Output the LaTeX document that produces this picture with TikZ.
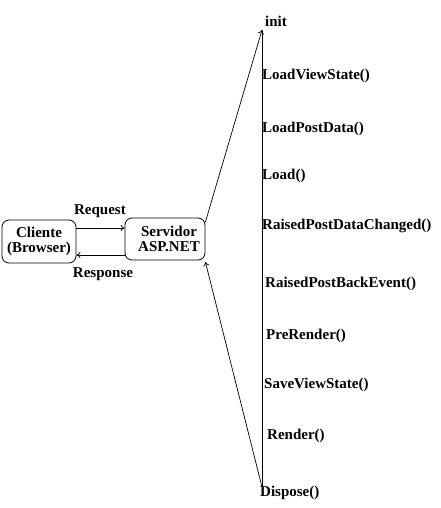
\documentclass[tikz,border=0pt]{standalone}
\usepackage{fontspec}
\setmainfont{Liberation Serif}
\usetikzlibrary{arrows.meta}
\begin{document}
\begin{tikzpicture}[x=1pt,y=-1pt,font=\fontsize{15}{16.5}\selectfont\bfseries,
  caixa/.style={draw,rounded corners=7pt,line width=0.8pt,align=center,inner sep=0pt},
  evento/.style={anchor=west,inner sep=0pt},
  seta/.style={line width=0.7pt,-{To[length=4pt,width=6pt]}}]
\useasboundingbox (0,0) rectangle (440,508);
% cliente e servidor
\node[caixa,minimum width=74pt,minimum height=43pt] (cliente) at (39,241.5) {Cliente\\[-1pt](Browser)};
\node[caixa,minimum width=80pt,minimum height=42pt] (servidor) at (165,239) {\hspace*{8pt}Servidor\\[-1pt]\hspace*{8pt}ASP.NET};
\draw[seta] (cliente.east |- 0,228) -- (servidor.west |- 0,228);
\draw[seta] (servidor.west |- 0,255) -- (cliente.east |- 0,255);
\node (request) at (100,211) {Request};
\node (response) at (103,274) {Response};
% ciclo de vida
\coordinate (ciclotop) at (262,30);
\coordinate (ciclobot) at (262,487);
\draw[seta] (servidor.east |- 0,222) -- (ciclotop);
\draw[line width=0.8pt] (ciclotop) -- (ciclobot);
\draw[seta] (ciclobot) -- (servidor.east |- 0,262);
\node[evento] (init) at (265,21) {init};
\node[evento] (loadvs) at (262,76) {LoadViewState()};
\node[evento] (loadpd) at (262,129) {LoadPostData()};
\node[evento] (load) at (262,176) {Load()};
\node[evento] (raisedpdc) at (262,226) {RaisedPostDataChanged()};
\node[evento] (raisedpbe) at (265,284) {RaisedPostBackEvent()};
\node[evento] (prerender) at (266,336) {PreRender()};
\node[evento] (savevs) at (264,385) {SaveViewState()};
\node[evento] (render) at (267,436) {Render()};
\node[evento] (dispose) at (260,493) {Dispose()};
\end{tikzpicture}
\end{document}
